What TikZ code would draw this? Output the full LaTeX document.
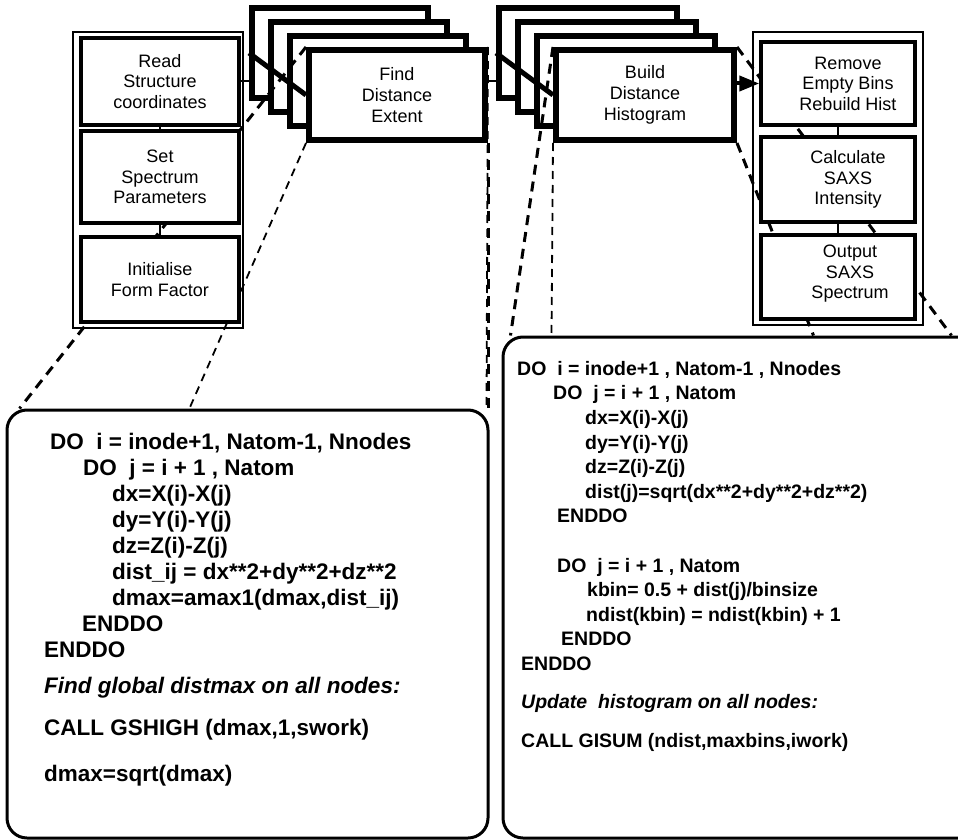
\documentclass[tikz,border=0pt]{standalone}
\usepackage{fontspec}
\setmainfont{Liberation Sans}
\usetikzlibrary{arrows.meta,positioning,calc}
\pgfdeclarelayer{back}
\pgfdeclarelayer{front}
\pgfsetlayers{back,main,front}

\begin{document}
\begin{tikzpicture}[x=1pt,y=-1pt,>=Stealth,
  colbox/.style={draw,line width=3.5pt,fill=white,minimum width=158pt,align=center,
                 font=\fontsize{18}{20.5}\selectfont,inner sep=0pt},
  coltext/.style={align=center,font=\fontsize{18}{20.5}\selectfont,inner sep=0pt},
  stackbox/.style={draw,line width=6pt,fill=white,minimum width=176pt,minimum height=90pt,
                   align=center,font=\fontsize{18}{21}\selectfont,inner sep=0pt},
  outer/.style={draw,line width=1.3pt,inner sep=0pt},
  codebox/.style={draw,line width=3pt,rounded corners=20pt,fill=white,inner sep=0pt},
  code/.style={anchor=north west,align=left,inner sep=0pt},
  cone/.style={line width=3pt,dash pattern=on 10pt off 7pt},
  thincone/.style={line width=1.8pt,dash pattern=on 8pt off 6pt},
  link/.style={line width=2pt}]
\useasboundingbox (0,0) rectangle (958,840);

\begin{pgfonlayer}{back}
\node[outer,minimum width=170pt,minimum height=296pt] (leftcol) at (158,180) {};
\node[outer,minimum width=170pt,minimum height=293pt] (rightcol) at (838,178.5) {};
\foreach \k in {3,2,1}{
  \node[stackbox] (find\k) at ($(397,95)+\k*(-19,-14)$) {};
  \node[stackbox,minimum width=178pt] (build\k) at ($(645,95)+\k*(-19,-14)$) {};
}
\end{pgfonlayer}

\begin{pgfonlayer}{front}
\node[stackbox] (find) at (397,95) {Find\\Distance\\Extent};
\node[stackbox,minimum width=178pt] (build) at (645,95) {Build\\Distance\\Histogram};
\node[colbox,minimum height=87pt] (read) at (160,81.5) {Read\\Structure\\coordinates};
\node[colbox,minimum height=92pt] (setspec) at (160,177) {Set\\Spectrum\\Parameters};
\node[colbox,minimum height=85pt] (initff) at (160,279.5) {Initialise\\Form Factor};
\node[colbox,minimum width=154pt,minimum height=83pt] (remove) at (838,83.5) {};
\node[colbox,minimum width=154pt,minimum height=85pt] (saxsint) at (838,179.5) {};
\node[colbox,minimum width=154pt,minimum height=84pt] (output) at (838,277) {};
\node[coltext] (removetxt) at ([xshift=10pt]remove.center) {Remove\\Empty Bins\\Rebuild Hist};
\node[coltext] (saxsinttxt) at ([xshift=10pt]saxsint.center) {Calculate\\SAXS\\Intensity};
\node[coltext] (outputtxt) at ([xshift=12pt,yshift=3pt]output.center) {Output\\SAXS\\Spectrum};
\node[codebox,minimum width=481pt,minimum height=428pt] (code1) at (247.5,624) {};
\node[codebox,minimum width=480pt,minimum height=501pt] (code2) at (743,587.5) {};
\node[code,font=\bfseries\fontsize{22.5}{26}\selectfont] (code1txt) at (44,433) {%
  \hspace*{6pt}DO\ \ i = inode+1, Natom-1, Nnodes\\
  \hspace*{39pt}DO\ \ j = i + 1 , Natom\\
  \hspace*{68pt}dx=X(i)-X(j)\\
  \hspace*{68pt}dy=Y(i)-Y(j)\\
  \hspace*{68pt}dz=Z(i)-Z(j)\\
  \hspace*{68pt}dist\_ij = dx**2+dy**2+dz**2\\
  \hspace*{68pt}dmax=amax1(dmax,dist\_ij)\\
  \hspace*{38pt}ENDDO\\
  ENDDO\\[10pt]
  \textit{Find global distmax on all nodes:}\\[16pt]
  CALL GSHIGH (dmax,1,swork)\\[20pt]
  dmax=sqrt(dmax)};
\node[code,font=\bfseries\fontsize{19.5}{24.6}\selectfont] (code2txt) at (517,361) {%
  DO\ \ i = inode+1\ , Natom-1\ , Nnodes\\
  \hspace*{36pt}DO\ \ j = i + 1 , Natom\\
  \hspace*{68pt}dx=X(i)-X(j)\\
  \hspace*{68pt}dy=Y(i)-Y(j)\\
  \hspace*{68pt}dz=Z(i)-Z(j)\\
  \hspace*{68pt}dist(j)=sqrt(dx**2+dy**2+dz**2)\\
  \hspace*{40pt}ENDDO\\[24.6pt]
  \hspace*{40pt}DO\ \ j = i + 1 , Natom\\
  \hspace*{70pt}kbin= 0.5 + dist(j)/binsize\\
  \hspace*{69pt}ndist(kbin) = ndist(kbin) + 1\\
  \hspace*{44pt}ENDDO\\
  \hspace*{4pt}ENDDO\\[13.4pt]
  \hspace*{4pt}\textit{Update\ \ histogram on all nodes:}\\[14.4pt]
  \hspace*{4pt}CALL GISUM (ndist,maxbins,iwork)};
\end{pgfonlayer}

\draw[link] (read.east) -- (read.east -| find3.west);
\draw[link] (find.east |- read.east) -- (build3.west |- read.east);
\draw[line width=5pt] (find3.west) -- (find.west);
\draw[line width=5pt] (build3.west) -- (build.west);
\draw[line width=4pt,-{Triangle[length=20pt,width=15pt]}] (build.east |- remove.west) -- (remove.west);
\draw[link] (read) -- (setspec);
\draw[link] (setspec) -- (initff);
\draw[link] (remove) -- (saxsint);
\draw[link] (saxsint) -- (output);
\draw[cone] (find.north west) -- ([xshift=14pt]code1.north west);
\draw[thincone] (find.south west) -- ($(code1.north west)!0.38!(code1.north east)$);
\draw[cone] (find.south east) -- (find.south east |- code1.north);
\draw[thincone] (find.north east) -- ([xshift=-3pt]code1.north east);
\draw[cone] (build.north west) -- ([xshift=9pt]code2.north west);
\draw[thincone] (build.south west) -- ([xshift=50pt]code2.north west);
\draw[cone] (build.south east) -- ([xshift=312pt]code2.north west);
\draw[cone] (build.north east) -- ([xshift=450pt]code2.north west);
\end{tikzpicture}
\end{document}
